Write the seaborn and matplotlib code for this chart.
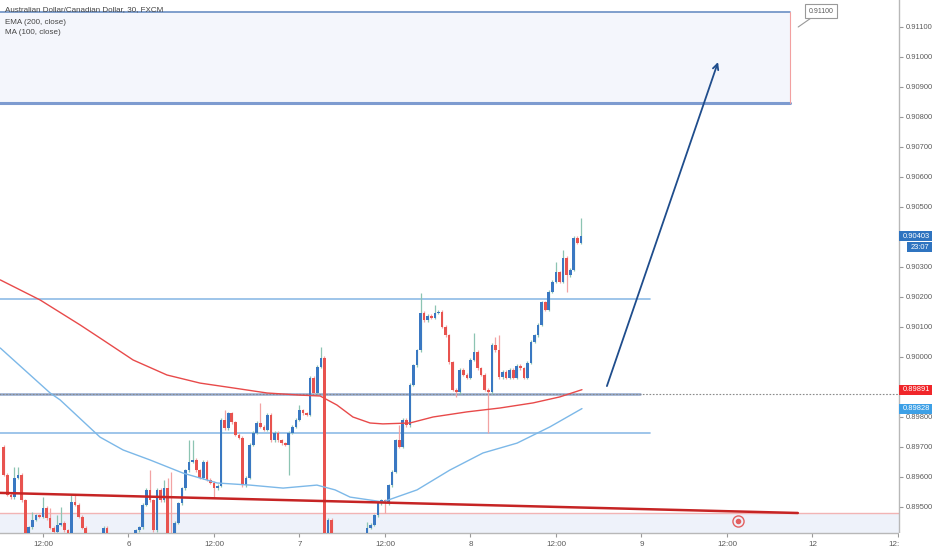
import numpy as np
import pandas as pd
import seaborn as sns
import matplotlib
matplotlib.use("Agg")
import matplotlib.pyplot as plt
from matplotlib.patches import Rectangle

## DATA
# 30 min candles, open of each bar = close of the previous bar
first_open = 0.89700
closes = [
    0.89607, 0.89540, 0.89533, 0.89597, 0.89607, 0.89523, 0.89390, 0.89433, 0.89457, 0.89473,
    0.89467, 0.89497, 0.89463, 0.89430, 0.89417, 0.89440, 0.89447, 0.89423, 0.89390, 0.89517,
    0.89507, 0.89467, 0.89430, 0.89390, 0.89373, 0.89363, 0.89383, 0.89390, 0.89430, 0.89390,
    0.89373, 0.89357, 0.89350, 0.89363, 0.89373, 0.89383, 0.89390, 0.89423, 0.89433, 0.89507,
    0.89557, 0.89523, 0.89423, 0.89557, 0.89523, 0.89563, 0.89390, 0.89373, 0.89447, 0.89513,
    0.89563, 0.89623, 0.89650, 0.89657, 0.89623, 0.89597, 0.89650, 0.89590, 0.89580, 0.89563,
    0.89570, 0.89790, 0.89763, 0.89813, 0.89783, 0.89740, 0.89730, 0.89573, 0.89597, 0.89707,
    0.89747, 0.89780, 0.89767, 0.89757, 0.89807, 0.89723, 0.89747, 0.89723, 0.89713, 0.89707,
    0.89747, 0.89767, 0.89790, 0.89823, 0.89813, 0.89807, 0.89930, 0.89880, 0.89967, 0.89997,
    0.89323, 0.89457, 0.89390, 0.89357, 0.89340, 0.89323, 0.89330, 0.89340, 0.89350, 0.89357,
    0.89363, 0.89407, 0.89430, 0.89440, 0.89473, 0.89513, 0.89523, 0.89513, 0.89573, 0.89617,
    0.89723, 0.89700, 0.89790, 0.89773, 0.89907, 0.89973, 0.90023, 0.90147, 0.90123, 0.90137,
    0.90130, 0.90147, 0.90150, 0.90100, 0.90073, 0.89983, 0.89890, 0.89883, 0.89957, 0.89940,
    0.89930, 0.89990, 0.90017, 0.89963, 0.89940, 0.89890, 0.89883, 0.90040, 0.90023, 0.89933,
    0.89950, 0.89930, 0.89957, 0.89930, 0.89970, 0.89963, 0.89930, 0.89980, 0.90050, 0.90073,
    0.90107, 0.90183, 0.90157, 0.90217, 0.90250, 0.90283, 0.90250, 0.90330, 0.90273, 0.90290,
    0.90397, 0.90380, 0.90403,
]
# the longer wicks
wick_highs = {3: 0.89633, 4: 0.89633, 8: 0.89483, 11: 0.89533, 13: 0.89497, 15: 0.89473,
              16: 0.89500, 19: 0.89540, 20: 0.89540, 41: 0.89623, 45: 0.89590, 46: 0.89597,
              47: 0.89617, 52: 0.89723, 53: 0.89723, 62: 0.89823, 72: 0.89847, 83: 0.89840,
              89: 0.90033, 102: 0.89450, 111: 0.89773, 117: 0.90213, 121: 0.90173, 132: 0.90080,
              138: 0.90067, 139: 0.90073, 155: 0.90317, 157: 0.90357, 162: 0.90463}
wick_lows = {59: 0.89530, 80: 0.89607, 107: 0.89480, 127: 0.89867, 136: 0.89747, 158: 0.90217}

# EMA (200) and MA (100)
ema_x = [-1.0, 10.2, 21.4, 27.8, 36.3, 45.8, 55.1, 64.3, 73.9, 83.1, 88.8,
         93.5, 98.0, 102.8, 106.4, 114.0, 120.5, 130.0, 139.3, 148.6, 156.1, 162.3]
ema_y = [0.90257, 0.90190, 0.90107, 0.90057, 0.89990, 0.89940, 0.89913, 0.89897, 0.89880, 0.89873, 0.89870,
         0.89840, 0.89800, 0.89780, 0.89777, 0.89780, 0.89800, 0.89817, 0.89830, 0.89847, 0.89867, 0.89891]
ma_x = [-1.0, 13.0, 15.8, 27.0, 33.5, 41.0, 50.3, 59.9, 69.1, 78.4,
        87.9, 93.0, 97.2, 106.4, 116.0, 125.2, 134.5, 144.1, 153.3, 162.3]
ma_y = [0.90030, 0.89880, 0.89857, 0.89733, 0.89690, 0.89657, 0.89613, 0.89580, 0.89573, 0.89563,
        0.89573, 0.89557, 0.89533, 0.89517, 0.89557, 0.89623, 0.89680, 0.89713, 0.89767, 0.89828]

# drawings
zone_top, zone_bottom, zone_end = 0.91150, 0.90847, 220.7
res_level, res_end = 0.90193, 181.4
mid_level, mid_end = 0.89877, 178.6
sup_level, sup_end = 0.89747, 181.4
low_zone_top = 0.89480
trend_x, trend_y = [-1.1, 222.9], [0.89547, 0.89480]
arrow_from, arrow_to = (169.3, 0.89903), (200.5, 0.90983)

price_ticks = [0.895, 0.896, 0.897, 0.898, 0.900, 0.901, 0.902, 0.903,
               0.905, 0.906, 0.907, 0.908, 0.909, 0.910, 0.911]
time_ticks = [11, 35, 59, 83, 107, 131, 155, 179, 203, 227, 251]
time_labels = ["12:00", "6", "12:00", "7", "12:00", "8", "12:00", "9", "12:00", "12", "12:00"]

last_price, countdown = 0.90403, "23:07"
ema_last, ma_last = 0.89891, 0.89828

## STYLE
sns.set_theme(style="white")
plt.rcParams['font.family'] = ['Liberation Sans', 'DejaVu Sans']
up_col, down_col = '#3a78c2', '#e8534f'
up_wick, down_wick = '#8cc4b2', '#f2a3a3'
grey_txt = '#5a5a5a'

fig = plt.figure(figsize=(9.32, 5.5), dpi=100)
ax = fig.add_axes([0, 17 / 550, 899 / 932, 533 / 550])
ax.set_xlim(-1.07, 251.3)
ax.set_ylim(0.894133, 0.91190)

# zones
ax.add_patch(Rectangle((-2, zone_bottom), zone_end + 2, zone_top - zone_bottom,
                       facecolor='#f4f6fc', edgecolor='none', zorder=0))
ax.plot([-2, zone_end], [zone_top, zone_top], color='#6b8fc4', lw=1.2, zorder=1)
ax.plot([-2, zone_end], [zone_bottom, zone_bottom], color='#7d9bd0', lw=2.2, zorder=1)
ax.plot([zone_end, zone_end], [zone_bottom, zone_top], color='#f2a0a0', lw=0.8, zorder=1)
ax.add_patch(Rectangle((-2, 0.8930), 260, low_zone_top - 0.8930,
                       facecolor='#eef2fa', edgecolor='none', zorder=0))
ax.plot([-2, 260], [low_zone_top, low_zone_top], color='#f2b4b4', lw=1, zorder=1)

# horizontal levels
ax.plot([-2, res_end], [res_level] * 2, color='#8dbbe6', lw=1.2, zorder=1)
ax.plot([-2, sup_end], [sup_level] * 2, color='#8dbbe6', lw=1.2, zorder=1)
ax.plot([-2, mid_end], [mid_level] * 2, color='#93a9cf', lw=1.8, zorder=1)
ax.plot([-2, 260], [mid_level] * 2, color='#8a8a8a', lw=0.8, ls=(0, (1.5, 1.5)), zorder=1)

# candles
opens = [first_open] + closes[:-1]
idx = np.arange(len(closes))
candles = pd.DataFrame({"open": opens, "close": closes}, index=idx)
candles["high"] = [wick_highs.get(i, max(o, c) + 0.00005) for i, o, c in zip(idx, opens, closes)]
candles["low"] = [wick_lows.get(i, min(o, c) - 0.00005) for i, o, c in zip(idx, opens, closes)]
up = (candles.close >= candles.open).values
ax.vlines(idx[up], candles.low[up], candles.high[up], color=up_wick, lw=0.9, zorder=2)
ax.vlines(idx[~up], candles.low[~up], candles.high[~up], color=down_wick, lw=0.9, zorder=2)
body = np.maximum((candles.close - candles.open).abs().values, 0.00003)
bottom = np.minimum(candles.open.values, candles.close.values)
ax.bar(idx, body, bottom=bottom, width=0.75, color=np.where(up, up_col, down_col),
       linewidth=0, zorder=3)

# moving averages
sns.lineplot(x=ema_x, y=ema_y, color='#e84a4a', lw=1.0, ax=ax, zorder=4)
sns.lineplot(x=ma_x, y=ma_y, color='#7cb8e8', lw=1.0, ax=ax, zorder=4)

# trendline + arrow
ax.plot(trend_x, trend_y, color='#c62424', lw=1.8, zorder=4)
ax.annotate("", xy=arrow_to, xytext=arrow_from,
            arrowprops=dict(arrowstyle='->', color='#1f4d8c', lw=1.3,
                            mutation_scale=10, shrinkA=0, shrinkB=0), zorder=5)

# price note
ax.annotate("0.91100", xy=(223, 0.91100), xytext=(229.4, 0.91153), fontsize=5,
            color=grey_txt, ha='center', va='center', annotation_clip=False,
            bbox=dict(boxstyle='square,pad=0.45', fc='white', ec='#999999', lw=0.8),
            arrowprops=dict(arrowstyle='-', color='#999999', lw=0.8, shrinkA=0, shrinkB=0))

# event icon
ax.plot(206, 0.89453, marker='o', ms=8, mfc='none', mec='#e26060', mew=1, zorder=5)
ax.plot(206, 0.89453, marker='o', ms=3, color='#e26060', zorder=5)

# axes
ax.yaxis.tick_right()
ax.set_yticks(price_ticks)
ax.set_yticklabels([f"{p:.5f}" for p in price_ticks])
ax.set_xticks(time_ticks)
ax.set_xticklabels(time_labels)
ax.tick_params(axis='y', length=3, width=0.8, color='#999999', labelsize=5.4,
               labelcolor=grey_txt, pad=1.5, right=True, left=False)
ax.tick_params(axis='x', length=3, width=0.8, color='#999999', labelsize=5.8,
               labelcolor=grey_txt, pad=3, bottom=True)
ax.set_xlabel("")
ax.set_ylabel("")
for s in ['top', 'left']:
    ax.spines[s].set_visible(False)
for s in ['right', 'bottom']:
    ax.spines[s].set_color('#b8b8b8')
    ax.spines[s].set_linewidth(1)

# cover the label cut by the price scale
fig.add_artist(Rectangle((899 / 932, 0), 33 / 932, 17 / 550, transform=fig.transFigure,
                         facecolor='white', edgecolor='none', zorder=10))


def price_tag(price, text, face, x0=899, h=10, dy=0):
    ypix = ax.transData.transform((0, price))[1] + dy
    fig.add_artist(Rectangle((x0 / 932, (ypix - h / 2) / 550), (932 - x0) / 932, h / 550,
                             transform=fig.transFigure, facecolor=face, edgecolor='none', zorder=11))
    fig.text((x0 + 4) / 932, ypix / 550, text, fontsize=5.4, color='white',
             va='center', ha='left', zorder=12)


price_tag(last_price, f"{last_price:.5f}", '#2f74c0')
price_tag(last_price, countdown, '#2f74c0', x0=907, dy=-11)
price_tag(ema_last, f"{ema_last:.5f}", '#f0262a')
price_tag(ma_last, f"{ma_last:.5f}", '#3da0e6')

# legend text
fig.text(5 / 932, 1 - 10 / 550, "Australian Dollar/Canadian Dollar, 30, FXCM",
         fontsize=5.8, color='#444444', va='center', zorder=12)
fig.text(5 / 932, 1 - 22 / 550, "EMA (200, close)", fontsize=5.8, color='#444444', va='center')
fig.text(5 / 932, 1 - 33 / 550, "MA (100, close)", fontsize=5.8, color='#444444', va='center')

fig.savefig("out.png", dpi=100)
plt.close(fig)
